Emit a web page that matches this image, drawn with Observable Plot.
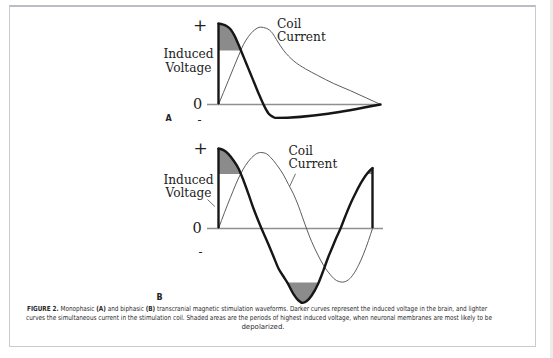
<!DOCTYPE html>
<html>
<head>
<meta charset="utf-8">
<script src="https://cdn.jsdelivr.net/npm/d3@7"></script>
<script src="https://cdn.jsdelivr.net/npm/@observablehq/plot@0.6"></script>
<style>
  html, body { margin: 0; padding: 0; background: #fff; }
  #page { position: relative; width: 553px; height: 358px; overflow: hidden; background: #fff; }
  #card { position: absolute; left: 9px; top: 5px; width: 527px; height: 342px;
          border: 1px solid #cbcad3; border-top: 2px solid #bdbcc6; box-sizing: border-box; }
  #strip { position: absolute; left: 550px; top: 0; width: 3px; height: 358px; background: #ececec; }
  #panelA, #panelB { position: absolute; left: 0; }
  #panelA { top: 0; }
  #panelB { top: 125px; }
  #caption { position: absolute; left: 0; top: 305px; width: 520px;
             font-family: "DejaVu Sans", Verdana, sans-serif; font-size: 7px; color: #2a2a2a; }
  #caption .ln { position: absolute; white-space: nowrap; transform-origin: 0 0; line-height: 9px; }
  #caption b { font-weight: bold; }
</style>
</head>
<body>
<div id="page">
  <div id="card"></div>
  <div id="strip"></div>
  <div id="panelA"></div>
  <div id="panelB"></div>
  <div id="caption"></div>
</div>
<script>
// ---------- Data (time in arbitrary units, amplitude normalised to voltage peak) ----------
// Panel A: monophasic
const voltA_t = [0, 4, 8, 12, 16, 20, 24, 28, 32, 36, 40, 45, 50, 54, 57, 162];
const voltA_v = [1.0, 0.99, 0.97, 0.93, 0.85, 0.74, 0.62, 0.5, 0.38, 0.26, 0.14, 0.0, -0.11, -0.15, -0.165, 0.0];
const coilA_t = [0, 10, 20, 25, 30, 36, 42, 48, 54, 58, 65, 75, 87, 99, 115, 132, 148, 162];
const coilA_v = [0, 0.3, 0.6, 0.74, 0.84, 0.92, 0.955, 0.94, 0.88, 0.8, 0.67, 0.54, 0.44, 0.36, 0.26, 0.17, 0.08, 0];
const thresholdA = 0.66;

// Panel B: biphasic
const voltB_t = [0, 5, 10, 15, 20, 25, 30, 35, 40, 43, 50, 55, 60, 65, 69, 75, 80, 84, 88, 93, 100, 105, 110, 115, 118, 122, 127, 132, 137, 142, 147, 151, 154];
const voltB_v = [1.0, 0.98, 0.93, 0.85, 0.75, 0.6, 0.43, 0.25, 0.09, 0.0, -0.2, -0.35, -0.5, -0.6, -0.68, -0.82, -0.9, -0.93, -0.91, -0.84, -0.68, -0.52, -0.35, -0.2, -0.11, 0.0, 0.16, 0.31, 0.44, 0.56, 0.66, 0.72, 0.755];
const coilB_t = [0, 12, 22, 32, 42, 47, 52, 58, 65, 70, 75, 80, 84, 88, 93, 99, 105, 112, 118, 124, 130, 135, 140, 145, 150, 154];
const coilB_v = [0, 0.39, 0.68, 0.87, 0.95, 0.94, 0.89, 0.8, 0.67, 0.55, 0.43, 0.28, 0.14, 0.0, -0.16, -0.32, -0.46, -0.58, -0.65, -0.67, -0.64, -0.57, -0.46, -0.32, -0.15, 0];
const thresholdB = 0.675;
const thresholdBneg = -0.68;

// Tick labels and text
const tickLabels = ["+", "0", "-"];
const panelLetters = ["A", "B"];
const voltLabel = "Induced\nVoltage";
const coilLabel = "Coil\nCurrent";
const captionLines = [
  "<b>FIGURE 2.</b> Monophasic <b>(A)</b> and biphasic <b>(B)</b> transcranial magnetic stimulation waveforms. Darker curves represent the induced voltage in the brain, and lighter",
  "curves the simultaneous current in the stimulation coil. Shaded areas are the periods of highest induced voltage, when neuronal membranes are most likely to be",
  "depolarized."
];

// ---------- helpers ----------
const zip = (ts, vs) => ts.map((t, i) => ({t, v: vs[i]}));

// Region where the voltage passes the threshold (sign = +1 above, -1 below), closed at linear crossing points
function shadeSegments(pts, thr, sign) {
  const out = [];
  let seg = 0;
  for (let i = 0; i < pts.length; i++) {
    const p = pts[i];
    const isIn = sign * (p.v - thr) >= 0;
    if (i > 0) {
      const q = pts[i - 1];
      const wasIn = sign * (q.v - thr) >= 0;
      if (wasIn !== isIn) {
        const f = (thr - q.v) / (p.v - q.v);
        out.push({t: q.t + f * (p.t - q.t), v: thr, seg});
        if (!isIn) seg++;
      }
    }
    if (isIn) out.push({t: p.t, v: p.v, seg});
  }
  return out;
}

const serif = "DejaVu Serif, serif";
const VOLT = "#161616", COIL = "#4a4a4a", AXIS = "#8f8f8f", SHADE = "#8b8b8b";

function panel({volt, coil, shades, yRange, height, zeroEnd, letter, letterPos,
               voltLabelPos, coilLabelPos, tickPos, leaders, vertEnd}) {
  const ticks = [
    {label: tickLabels[0], ...tickPos[0], size: 17, weight: "normal"},
    {label: tickLabels[1], ...tickPos[1], size: 14.5, weight: "normal"},
    {label: tickLabels[2], ...tickPos[2], size: 12, weight: "bold"}
  ];
  const marks = [
    ...shades.map(s => Plot.areaY(s.data, {x: "t", y1: s.thr, y2: "v", z: "seg", fill: SHADE, curve: "monotone-x"})),
    Plot.ruleY([0], {x1: -11, x2: zeroEnd, stroke: AXIS, strokeWidth: 1.3}),
    Plot.line(coil, {x: "t", y: "v", stroke: COIL, strokeWidth: 0.9, curve: "monotone-x"}),
    Plot.ruleX([volt[0]], {x: "t", y1: 0, y2: "v", stroke: VOLT, strokeWidth: 2.4}),
    Plot.line(volt, {x: "t", y: "v", stroke: VOLT, strokeWidth: 2.4, curve: "monotone-x", strokeLinejoin: "round"}),
  ];
  if (vertEnd) {
    marks.push(Plot.ruleX([volt[volt.length - 1]], {x: "t", y1: 0, y2: "v", stroke: VOLT, strokeWidth: 2.4}));
  }
  for (const l of leaders) {
    marks.push(Plot.link([l], {x1: "x1", y1: "y1", x2: "x2", y2: "y2", stroke: COIL, strokeWidth: 0.8}));
  }
  marks.push(
    Plot.text([voltLabel], {x: voltLabelPos.t, y: voltLabelPos.v, text: d => d, fontFamily: serif, fontSize: 12.2, lineHeight: 1.1, fill: "#222", textAnchor: "middle"}),
    Plot.text([coilLabel], {x: coilLabelPos.t, y: coilLabelPos.v, text: d => d, fontFamily: serif, fontSize: 12.2, lineHeight: 1.1, fill: "#222", textAnchor: "start"}),
    Plot.text(ticks, {x: "t", y: "v", text: "label", fontFamily: serif, fontSize: "size", fontWeight: "weight", fill: "#222"}),
    Plot.text([letter], {x: letterPos.t, y: letterPos.v, text: d => d, fontFamily: "DejaVu Sans, sans-serif", fontWeight: "bold", fontSize: 8, fill: "#222"})
  );
  return Plot.plot({
    width: 553, height,
    style: {background: "none", overflow: "visible"},
    x: {domain: [0, 162], range: [218, 380], axis: null},
    y: {domain: [0, 1], range: yRange, axis: null},
    marks
  });
}

const voltA = zip(voltA_t, voltA_v), coilA = zip(coilA_t, coilA_v);
const voltB = zip(voltB_t, voltB_v), coilB = zip(coilB_t, coilB_v);

const chartA = panel({
  volt: voltA, coil: coilA,
  shades: [{data: shadeSegments(voltA, thresholdA, 1), thr: thresholdA}],
  yRange: [104, 23], height: 125, zeroEnd: 162,
  letter: panelLetters[0], letterPos: {t: -50, v: -0.167},
  voltLabelPos: {t: -30, v: 0.54}, coilLabelPos: {t: 58.5, v: 0.92},
  tickPos: [{t: -18.5, v: 0.975}, {t: -21, v: 0.0}, {t: -19, v: -0.19}],
  leaders: [], vertEnd: false
});
const chartB = panel({
  volt: voltB, coil: coilB,
  shades: [
    {data: shadeSegments(voltB, thresholdB, 1), thr: thresholdB},
    {data: shadeSegments(voltB, thresholdBneg, -1), thr: thresholdBneg}
  ],
  yRange: [103, 23], height: 180, zeroEnd: 165,
  letter: panelLetters[1], letterPos: {t: -59, v: -0.856},
  voltLabelPos: {t: -30, v: 0.53}, coilLabelPos: {t: 70, v: 0.89},
  tickPos: [{t: -18, v: 1.0}, {t: -21.5, v: 0}, {t: -18, v: -0.3}],
  leaders: [
    {x1: -11, y1: 0.3625, x2: -3.7, y2: 0.275},
    {x1: 77, y1: 0.684, x2: 71.3, y2: 0.53}
  ],
  vertEnd: true
});
document.getElementById("panelA").appendChild(chartA);
document.getElementById("panelB").appendChild(chartB);

// caption, each line fitted to the span measured on the reference
const cap = document.getElementById("caption");
const targets = [{x0: 27, x1: 487}, {x0: 26, x1: 492}, {center: 263}];
captionLines.forEach((html, i) => {
  const d = document.createElement("div");
  d.className = "ln";
  d.innerHTML = html;
  d.style.top = (i * 9) + "px";
  cap.appendChild(d);
  const w = d.getBoundingClientRect().width;
  const tg = targets[i];
  if (tg.center !== undefined) {
    d.style.left = (tg.center - w / 2) + "px";
  } else {
    d.style.left = tg.x0 + "px";
    d.style.transform = `scaleX(${(tg.x1 - tg.x0) / w})`;
  }
});
</script>
</body>
</html>
